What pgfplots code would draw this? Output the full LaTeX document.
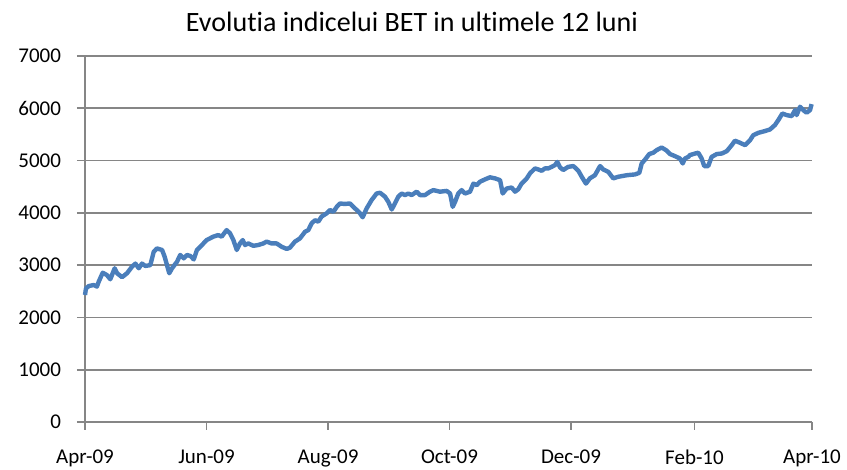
\documentclass[border=0pt]{standalone}
\usepackage{fontspec}
\setmainfont[Ligatures=NoCommon]{Carlito}
\usepackage{pgfplots}
\pgfplotsset{compat=1.18}
\definecolor{betblue}{RGB}{74,126,187}
\definecolor{gridgray}{RGB}{134,134,134}

% day since 1 Apr 2009, index value
\pgfplotstableread{
d v
0 2430
0.5 2555
1.9 2600
4.4 2620
6.0 2590
6.9 2685
8.9 2855
11.0 2810
12.7 2730
14.9 2940
16.1 2845
18.6 2770
21.1 2845
23.6 2970
25.3 3030
27.0 2940
28.6 3030
30.3 2985
32.8 3000
34.5 3255
36.1 3320
38.7 3290
40.0 3160
42.3 2845
43.7 2940
46.2 3065
47.8 3195
49.6 3130
51.2 3195
52.9 3175
54.6 3110
56.2 3290
58.7 3385
61.1 3480
64.4 3545
66.9 3575
68.6 3545
71.1 3670
72.8 3610
74.5 3480
76.2 3290
77.8 3415
79.2 3480
80.3 3385
82.0 3415
84.5 3370
87.0 3385
89.5 3415
91.2 3450
93.7 3415
96.2 3415
98.8 3350
101.3 3310
102.9 3335
105.4 3450
107.9 3510
110.5 3640
112.1 3670
113.8 3800
115.5 3860
117.1 3830
118.8 3930
121.3 3990
123.0 4055
124.7 4020
126.4 4115
128.0 4180
130.5 4170
133.0 4180
134.7 4115
136.4 4055
138.1 3990
139.4 3915
141.4 4085
143.9 4245
146.4 4370
148.1 4385
150.6 4310
152.3 4210
154.0 4065
155.6 4180
157.3 4310
159.0 4370
160.7 4340
162.3 4370
164.0 4340
166.5 4405
168.2 4340
170.7 4340
173.2 4405
174.9 4435
178.2 4405
181.6 4420
183.3 4370
184.6 4115
185.8 4210
187.4 4370
189.1 4435
190.8 4370
193.3 4405
195.0 4560
196.7 4530
198.3 4595
200.8 4640
203.3 4680
205.8 4660
208.4 4625
209.7 4370
211.7 4465
214.2 4485
215.9 4405
217.5 4450
219.2 4560
221.8 4660
223.4 4755
225.9 4850
227.6 4830
229.3 4805
230.9 4850
232.6 4850
234.3 4880
236.0 4915
237.1 4975
238.5 4870
240.1 4820
242.6 4880
245.2 4895
247.7 4805
249.4 4690
251.5 4560
253.5 4660
256.0 4720
258.6 4895
260.2 4830
262.7 4785
265.2 4660
267.7 4690
272.0 4720
276.1 4735
278.3 4765
279.5 4945
281.2 5020
283.3 5125
285.3 5150
287.0 5200
289.5 5250
291.7 5200
293.7 5125
296.2 5085
298.7 5040
300.1 4945
301.2 5040
302.9 5070
303.7 5105
306.3 5135
307.9 5150
309.6 5040
310.9 4895
312.9 4895
314.6 5070
317.2 5125
319.7 5135
322.2 5180
324.7 5295
326.3 5380
328.9 5340
331.4 5295
333.9 5390
335.5 5485
338.0 5530
341.4 5565
343.9 5595
346.4 5680
348.1 5775
350.1 5900
352.3 5870
354.8 5850
356.5 5965
357.3 5870
359.0 6030
360.6 5965
362.3 5915
364.0 5965
364.8 6080
}\betdata

\begin{document}
\begin{tikzpicture}
\begin{axis}[
    name=ax,
    at={(0,0)}, anchor=south west,
    scale only axis,
    width=363.5pt, height=183pt,
    xmin=0, xmax=365,
    ymin=0, ymax=7000,
    axis x line=bottom, axis y line=left,
    axis line style={-, gridgray, line width=0.8pt},
    xtick={0,61,122,183,244,306,365},
    xticklabels={Apr-09,Jun-09,Aug-09,Oct-09,Dec-09,Feb-10,Apr-10},
    ytick={0,1000,...,7000},
    ymajorgrids,
    major grid style={gridgray, line width=0.8pt},
    tick align=outside,
    major tick length=4pt,
    tick style={gridgray, line width=0.8pt},
    tick label style={font=\fontsize{10.5}{12}\selectfont, black},
    /pgf/number format/assume math mode=true,
    /pgf/number format/1000 sep={},
    yticklabel style={xshift=-4.5pt},
    xticklabel style={yshift=-6.5pt},
    clip=false,
]
\addplot[betblue, line width=2.2pt, line join=round] table[x=d, y=v] {\betdata};
\end{axis}
\node[font=\fontsize{14}{16}\selectfont] at (163.5pt,200pt) {Evolutia indicelui BET in ultimele 12 luni};
\pgfresetboundingbox
\useasboundingbox (-42.5pt,-24pt) rectangle (381pt,211pt);
\end{tikzpicture}
\end{document}
